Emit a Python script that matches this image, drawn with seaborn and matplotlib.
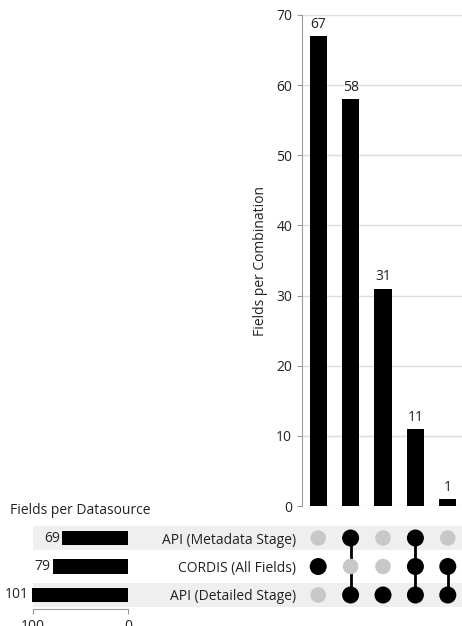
import matplotlib
matplotlib.use("Agg")
import matplotlib.pyplot as plt
import seaborn as sns
import pandas as pd
import numpy as np

plt.rcParams["font.family"] = ["Open Sans", "DejaVu Sans"]

# ---- data ----
set_names = ["API (Metadata Stage)", "CORDIS (All Fields)", "API (Detailed Stage)"]
set_totals = [69, 79, 101]
combo_ids = ["C1", "C2", "C3", "C4", "C5"]
combo_counts = [67, 58, 31, 11, 1]
# membership per combination, in order of set_names
combo_members = [
    [0, 1, 0],
    [1, 0, 1],
    [0, 0, 1],
    [1, 1, 1],
    [0, 1, 1],
]

W, H = 462, 626
fig = plt.figure(figsize=(W / 100, H / 100), dpi=100)

def fx(px):
    return px / W

def fy(px):
    return 1 - px / H

tick_gray = "#999999"
text_col = "#222222"
fs = 10

# axes geometry (pixels)
mat_top, mat_bot = 523.75, 609.25
bar_top, bar_bot = 15, 506
mx0, mx1 = 302, 464
tx0, tx1 = 33, 128

# background stripes
ax_bg = fig.add_axes([fx(tx0), fy(mat_bot), fx(W - tx0), (mat_bot - mat_top) / H], zorder=0)
ax_bg.set_xlim(0, 1)
ax_bg.set_ylim(2.5, -0.5)
for r in range(len(set_names)):
    if r % 2 == 0:
        ax_bg.axhspan(r - 0.41, r + 0.41, color="#efefef", lw=0)
ax_bg.axis("off")

# intersection bars
ax_bar = fig.add_axes([fx(mx0), fy(bar_bot), fx(mx1 - mx0), (bar_bot - bar_top) / H], zorder=2)
ax_bar.patch.set_alpha(0)
df_c = pd.DataFrame({"combo": combo_ids, "count": combo_counts})
sns.barplot(data=df_c, x="combo", y="count", order=combo_ids, color="black",
            saturation=1, width=0.53, ax=ax_bar)
ax_bar.bar_label(ax_bar.containers[0], padding=3, fontsize=fs, color=text_col)
ax_bar.set_xlim(-0.5, len(combo_ids) - 0.5)
ax_bar.set_ylim(0, 70)
ax_bar.set_yticks(range(0, 71, 10))
ax_bar.set_xticks([])
ax_bar.set_xlabel("")
ax_bar.set_ylabel("Fields per Combination", fontsize=fs, color=text_col, labelpad=6)
ax_bar.yaxis.grid(True, color="#dddddd", lw=1)
ax_bar.set_axisbelow(True)
for s in ["top", "right", "bottom"]:
    ax_bar.spines[s].set_visible(False)
ax_bar.spines["left"].set_color(tick_gray)
ax_bar.tick_params(axis="y", colors=tick_gray, labelcolor=text_col, labelsize=fs)

# matrix
ax_mat = fig.add_axes([fx(mx0), fy(mat_bot), fx(mx1 - mx0), (mat_bot - mat_top) / H], zorder=2)
ax_mat.patch.set_alpha(0)
rows = []
for ci, mem in enumerate(combo_members):
    for ri, a in enumerate(mem):
        rows.append({"col": ci, "row": ri, "active": bool(a)})
df_m = pd.DataFrame(rows)
for ci, mem in enumerate(combo_members):
    act = [ri for ri, a in enumerate(mem) if a]
    if len(act) > 1:
        ax_mat.vlines(ci, min(act), max(act), color="black", lw=2, zorder=1)
sns.scatterplot(data=df_m, x="col", y="row", hue="active", size="active",
                palette={True: "black", False: "#c8c8c8"},
                sizes={True: 150, False: 125}, linewidth=0, legend=False,
                ax=ax_mat, zorder=2)
ax_mat.set_xlim(-0.5, len(combo_ids) - 0.5)
ax_mat.set_ylim(2.5, -0.5)
ax_mat.set_xticks([])
ax_mat.set_yticks(range(len(set_names)))
ax_mat.set_yticklabels(set_names, fontsize=fs, color=text_col)
ax_mat.tick_params(axis="y", length=0, pad=4)
ax_mat.set_xlabel("")
ax_mat.set_ylabel("")
for s in ax_mat.spines.values():
    s.set_visible(False)

# totals
ax_tot = fig.add_axes([fx(tx0), fy(mat_bot), fx(tx1 - tx0), (mat_bot - mat_top) / H], zorder=2)
ax_tot.patch.set_alpha(0)
df_t = pd.DataFrame({"set": set_names, "total": set_totals})
sns.barplot(data=df_t, x="total", y="set", order=set_names, orient="h", color="black",
            saturation=1, width=0.5, ax=ax_tot)
for b in ax_tot.containers[0]:
    b.set_clip_on(False)
ax_tot.set_xlim(100, 0)
ax_tot.set_ylim(2.5, -0.5)
ax_tot.bar_label(ax_tot.containers[0], padding=2, fontsize=fs, color=text_col,
                 annotation_clip=False)
ax_tot.set_xticks([100, 0])
ax_tot.set_yticks([])
ax_tot.set_xlabel("")
ax_tot.set_ylabel("")
ax_tot.set_title("Fields per Datasource", fontsize=fs, color=text_col, pad=7)
for s in ["top", "right", "left"]:
    ax_tot.spines[s].set_visible(False)
ax_tot.spines["bottom"].set_color(tick_gray)
ax_tot.tick_params(axis="x", colors=tick_gray, labelcolor=text_col, labelsize=fs)

fig.savefig("out.png", dpi=100)
